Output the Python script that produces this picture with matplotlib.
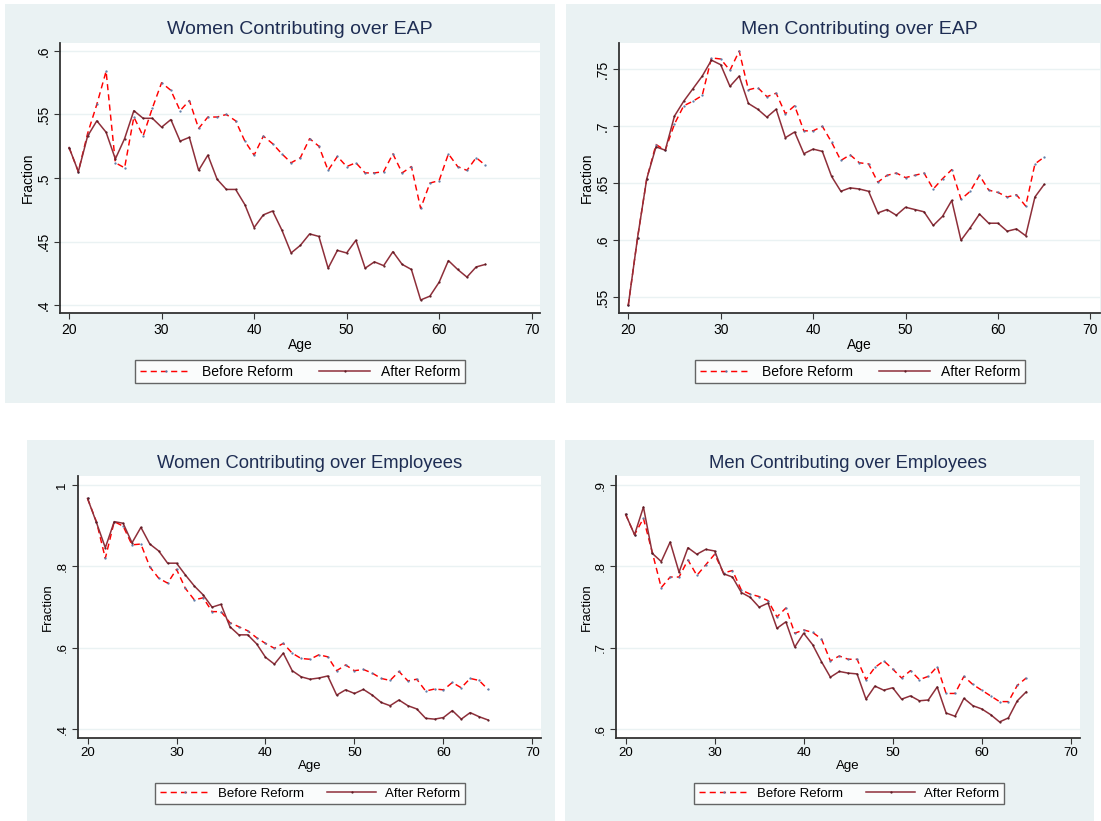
import matplotlib
matplotlib.use("Agg")
import matplotlib.pyplot as plt
from matplotlib.patches import Rectangle

plt.rcParams['font.family'] = ['Liberation Sans', 'DejaVu Sans']

W, H = 1101, 821

ages = list(range(20, 66))

# Women contributing over EAP
women_eap_before = [0.524, 0.505, 0.535, 0.558, 0.584, 0.512, 0.508, 0.548, 0.533, 0.555,
                    0.575, 0.569, 0.553, 0.561, 0.539, 0.548, 0.548, 0.550, 0.545, 0.529,
                    0.518, 0.533, 0.527, 0.519, 0.512, 0.516, 0.531, 0.525, 0.506, 0.517,
                    0.509, 0.512, 0.504, 0.504, 0.505, 0.519, 0.504, 0.509, 0.476, 0.496,
                    0.498, 0.519, 0.509, 0.506, 0.516, 0.510]
women_eap_after = [0.524, 0.505, 0.533, 0.545, 0.536, 0.515, 0.531, 0.553, 0.547, 0.547,
                   0.540, 0.546, 0.529, 0.532, 0.506, 0.518, 0.499, 0.491, 0.491, 0.479,
                   0.461, 0.471, 0.474, 0.459, 0.441, 0.447, 0.456, 0.454, 0.429, 0.443,
                   0.441, 0.451, 0.429, 0.434, 0.431, 0.442, 0.432, 0.428, 0.404, 0.407,
                   0.418, 0.435, 0.428, 0.422, 0.430, 0.432]

# Men contributing over EAP
men_eap_before = [0.543, 0.602, 0.654, 0.684, 0.679, 0.702, 0.718, 0.722, 0.727, 0.760,
                  0.759, 0.749, 0.766, 0.732, 0.734, 0.726, 0.729, 0.711, 0.718, 0.696,
                  0.696, 0.700, 0.686, 0.670, 0.675, 0.668, 0.667, 0.651, 0.657, 0.659,
                  0.655, 0.657, 0.659, 0.645, 0.654, 0.662, 0.636, 0.643, 0.657, 0.644,
                  0.642, 0.638, 0.640, 0.630, 0.667, 0.673]
men_eap_after = [0.543, 0.602, 0.654, 0.682, 0.679, 0.709, 0.722, 0.733, 0.744, 0.758,
                 0.754, 0.735, 0.744, 0.720, 0.715, 0.708, 0.715, 0.690, 0.695, 0.676,
                 0.680, 0.678, 0.656, 0.643, 0.646, 0.645, 0.643, 0.624, 0.627, 0.622,
                 0.629, 0.627, 0.625, 0.613, 0.621, 0.635, 0.600, 0.611, 0.623, 0.615,
                 0.615, 0.608, 0.610, 0.604, 0.638, 0.649]

# Women contributing over employees
women_emp_before = [0.967, 0.910, 0.820, 0.910, 0.899, 0.853, 0.855, 0.799, 0.771, 0.759,
                    0.793, 0.746, 0.718, 0.723, 0.689, 0.689, 0.662, 0.652, 0.642, 0.625,
                    0.611, 0.599, 0.611, 0.587, 0.574, 0.572, 0.583, 0.578, 0.544, 0.558,
                    0.544, 0.547, 0.538, 0.525, 0.520, 0.542, 0.519, 0.523, 0.494, 0.499,
                    0.497, 0.515, 0.502, 0.525, 0.520, 0.498]
women_emp_after = [0.967, 0.908, 0.846, 0.910, 0.906, 0.858, 0.896, 0.855, 0.838, 0.808,
                   0.808, 0.779, 0.752, 0.730, 0.700, 0.707, 0.652, 0.632, 0.632, 0.610,
                   0.577, 0.560, 0.587, 0.544, 0.529, 0.523, 0.526, 0.531, 0.484, 0.497,
                   0.488, 0.498, 0.484, 0.466, 0.458, 0.472, 0.458, 0.450, 0.427, 0.425,
                   0.429, 0.446, 0.425, 0.441, 0.431, 0.423]

# Men contributing over employees
men_emp_before = [0.864, 0.839, 0.859, 0.817, 0.774, 0.787, 0.787, 0.808, 0.789, 0.802,
                  0.815, 0.792, 0.795, 0.771, 0.766, 0.763, 0.758, 0.738, 0.749, 0.718,
                  0.722, 0.719, 0.711, 0.684, 0.690, 0.686, 0.686, 0.661, 0.676, 0.684,
                  0.674, 0.663, 0.672, 0.661, 0.665, 0.677, 0.644, 0.644, 0.665, 0.655,
                  0.648, 0.641, 0.634, 0.634, 0.654, 0.663]
men_emp_after = [0.864, 0.839, 0.873, 0.816, 0.806, 0.830, 0.793, 0.823, 0.815, 0.821,
                 0.819, 0.791, 0.787, 0.768, 0.762, 0.750, 0.755, 0.724, 0.732, 0.701,
                 0.718, 0.704, 0.683, 0.664, 0.671, 0.669, 0.668, 0.637, 0.653, 0.648,
                 0.651, 0.637, 0.641, 0.635, 0.636, 0.652, 0.620, 0.616, 0.638, 0.629,
                 0.625, 0.618, 0.609, 0.614, 0.635, 0.646]

titles = ["Women Contributing over EAP", "Men Contributing over EAP",
          "Women Contributing over Employees", "Men Contributing over Employees"]
yticks = [[0.4, 0.45, 0.5, 0.55, 0.6], [0.55, 0.6, 0.65, 0.7, 0.75],
          [0.4, 0.6, 0.8, 1.0], [0.6, 0.7, 0.8, 0.9]]
xticks = [20, 30, 40, 50, 60, 70]
series = [(women_eap_before, women_eap_after), (men_eap_before, men_eap_after),
          (women_emp_before, women_emp_after), (men_emp_before, men_emp_after)]

# layout in pixels: background box, plot box, xlim, ylim, legend centre, font scale
panels = [
    dict(bg=(4.6, 4, 555, 403.3), ax=(60.3, 42.7, 540, 313.3),
         xlim=(19.05, 70.9), ylim=(0.3935, 0.6065), leg=(300, 371.5), fs=1.0),
    dict(bg=(566, 4, 1101, 403.3), ax=(619.4, 42.7, 1100, 313.3),
         xlim=(19.04, 71.04), ylim=(0.536, 0.7733), leg=(860, 371.5), fs=1.0),
    dict(bg=(26.7, 440, 555, 821), ax=(78, 476, 541, 737.5),
         xlim=(18.93, 70.96), ylim=(0.3799, 1.0221), leg=(310, 793.5), fs=0.955),
    dict(bg=(565, 440, 1094, 821), ax=(616.2, 476, 1080, 737.5),
         xlim=(18.94, 71.04), ylim=(0.5899, 0.9111), leg=(849, 793.5), fs=0.955),
]

BG = '#eaf2f3'
RED = '#ff0000'
MAROON = '#8e2f3a'


def fmt_tick(v):
    s = ('%g' % v)
    return s[1:] if s.startswith('0.') else s


fig = plt.figure(figsize=(W / 100, H / 100), dpi=100)
fig.patch.set_facecolor('white')

for i, p in enumerate(panels):
    x0, y0, x1, y1 = p['bg']
    fig.patches.append(Rectangle((x0 / W, 1 - y1 / H), (x1 - x0) / W, (y1 - y0) / H,
                                 transform=fig.transFigure, facecolor=BG,
                                 edgecolor='none', zorder=-5))
    fs = p['fs']
    a0, b0, a1, b1 = p['ax']
    ax = fig.add_axes([a0 / W, 1 - b1 / H, (a1 - a0) / W, (b1 - b0) / H])
    ax.set_zorder(1)
    ax.set_facecolor('white')
    before, after = series[i]
    ax.plot(ages, before, color=RED, lw=1.05, dashes=(4.2, 2.8),
            marker='.', ms=1.3, mfc='#5a7aa8', mec='#5a7aa8', label='Before Reform')
    ax.plot(ages, after, color=MAROON, lw=1.1,
            marker='.', ms=1.2, mfc='#5a1a22', mec='#5a1a22', label='After Reform')
    ax.set_xlim(*p['xlim'])
    ax.set_ylim(*p['ylim'])
    ax.set_xticks(xticks)
    ax.set_yticks(yticks[i])
    ax.set_yticklabels([fmt_tick(v) for v in yticks[i]], rotation=90, va='center')
    ax.tick_params(axis='both', labelsize=10 * fs, length=4, width=0.8, color='#333333')
    ax.tick_params(axis='x', pad=3)
    ax.tick_params(axis='y', pad=3)
    for v in yticks[i]:
        ax.axhline(v, color=BG, lw=1.0, zorder=0)
    for side in ['top', 'right']:
        ax.spines[side].set_visible(False)
    for side in ['left', 'bottom']:
        ax.spines[side].set_color('#333333')
        ax.spines[side].set_linewidth(1.3)
    ax.set_xlabel('Age', fontsize=10 * fs, labelpad=0.5)
    ax.set_ylabel('Fraction', fontsize=10 * fs, labelpad=1.5)
    ax.set_title(titles[i], fontsize=14 * fs, color='#1e2d53', pad=6)
    lx, ly = p['leg']
    leg = ax.legend(loc='center', bbox_to_anchor=(lx / W, 1 - ly / H),
                    bbox_transform=fig.transFigure, ncol=2, fontsize=10 * fs,
                    frameon=True, fancybox=False, handlelength=3.7,
                    handletextpad=0.75 if fs == 1.0 else 0.65,
                    columnspacing=1.9 if fs == 1.0 else 1.75,
                    borderpad=0.35, borderaxespad=0)
    leg.get_frame().set_edgecolor('#404040')
    leg.get_frame().set_linewidth(1.0)

fig.savefig('out.png', dpi=100, facecolor='white')
